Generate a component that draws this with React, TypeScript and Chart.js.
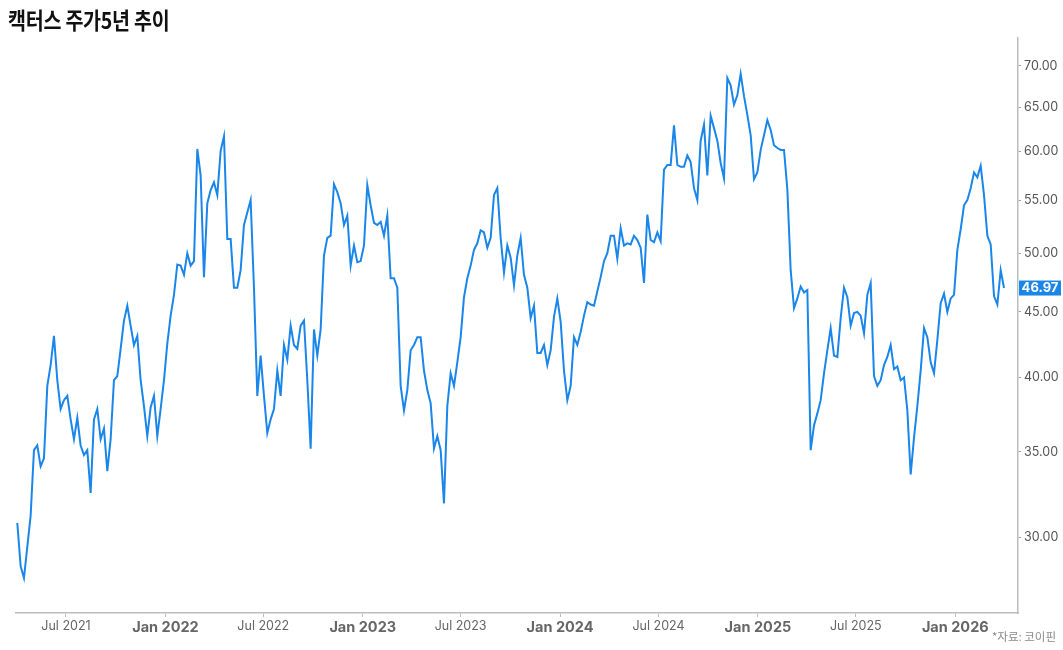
import { useEffect, useRef } from "react"
import { Chart, registerables } from "chart.js"

Chart.register(...registerables)

const DAY = 86400000
// first sample date and spacing of samples
const startDate = Date.UTC(2021, 3, 2)
const stepDays = 6.166

const prices = [
  30.8, 28.5, 27.9, 29.5, 31.2, 35.1, 35.4, 34.1, 34.6, 39.4,
  40.9, 43.1, 39.8, 37.8, 38.4, 38.7, 37.1, 35.8, 37.2, 35.4,
  34.8, 35.1, 32.5, 37.1, 37.8, 35.8, 36.5, 33.8, 35.8, 39.8,
  40.1, 42.1, 44.3, 45.5, 43.9, 42.4, 43.1, 39.8, 38.0, 36.0,
  37.9, 38.7, 36.0, 37.8, 39.8, 42.5, 44.7, 46.4, 49.0, 48.9,
  48.1, 50.0, 48.9, 49.3, 60.3, 57.5, 47.9, 54.7, 56.0, 56.8,
  55.5, 60.1, 61.7, 51.3, 51.3, 47.0, 47.0, 48.5, 52.6, 53.8,
  55.0, 47.0, 38.7, 41.6, 38.7, 36.2, 37.1, 37.8, 40.5, 38.7,
  42.4, 41.3, 43.9, 42.4, 42.1, 43.9, 44.3, 39.8, 35.2, 43.6,
  41.6, 43.6, 49.8, 51.4, 51.6, 56.6, 55.8, 54.7, 52.6, 53.5,
  48.9, 50.7, 49.2, 49.3, 50.7, 56.5, 54.5, 52.8, 52.6, 52.9,
  51.6, 53.5, 47.8, 47.8, 47.0, 39.4, 37.7, 39.1, 42.0, 42.4,
  43.0, 43.0, 40.5, 39.1, 38.2, 35.2, 36.0, 35.1, 31.9, 38.0,
  40.3, 39.4, 41.1, 43.0, 46.2, 47.8, 48.9, 50.3, 50.9, 52.1,
  51.9, 50.5, 51.4, 55.5, 56.2, 51.4, 48.3, 50.7, 49.6, 47.2,
  49.8, 51.4, 48.1, 47.0, 44.5, 45.5, 41.8, 41.8, 42.4, 40.9,
  42.0, 44.6, 46.1, 44.2, 40.5, 38.4, 39.4, 43.0, 42.4, 43.4,
  44.7, 45.8, 45.6, 45.5, 46.7, 47.9, 49.3, 50.0, 51.6, 51.6,
  49.5, 52.3, 50.7, 50.9, 50.8, 51.6, 51.2, 50.5, 47.4, 53.6,
  51.2, 51.0, 51.9, 51.1, 58.1, 58.6, 58.6, 62.9, 58.6, 58.4,
  58.4, 59.6, 58.9, 56.2, 55.0, 61.2, 63.0, 57.5, 64.0, 62.6,
  61.2, 58.8, 57.2, 68.5, 67.6, 65.3, 66.4, 69.0, 66.3, 64.1,
  61.8, 57.1, 57.8, 60.2, 61.8, 63.5, 62.4, 60.7, 60.4, 60.2,
  60.2, 56.1, 48.5, 45.3, 46.1, 47.1, 46.6, 46.8, 35.1, 36.7,
  37.5, 38.4, 40.3, 42.0, 43.7, 41.6, 41.5, 44.5, 47.0, 46.2,
  43.9, 44.9, 45.0, 44.7, 43.3, 46.4, 47.4, 40.1, 39.4, 39.8,
  40.9, 41.5, 42.4, 40.6, 40.8, 39.8, 40.0, 37.7, 33.6, 35.9,
  38.0, 40.5, 43.7, 43.0, 41.1, 40.3, 42.8, 45.7, 46.5, 45.0,
  46.1, 46.4, 50.3, 52.2, 54.5, 55.0, 56.2, 57.8, 57.3, 58.5,
  55.5, 51.6, 50.8, 46.3, 45.6, 48.5, 46.97,
]

const xTickLabels = [
  "Jul 2021", "Jan 2022", "Jul 2022", "Jan 2023", "Jul 2023",
  "Jan 2024", "Jul 2024", "Jan 2025", "Jul 2025", "Jan 2026",
]
const yTicks = [30, 35, 40, 45, 50, 55, 60, 65, 70]

const LINE_COLOR = "#1a86ea"

const labelToTime = (label: string) => {
  const [mon, year] = label.split(" ")
  return Date.UTC(Number(year), mon === "Jan" ? 0 : 6, 1)
}

const lastValueLabel = {
  id: "lastValueLabel",
  afterDraw(chart: any) {
    const { ctx, chartArea, scales } = chart
    const v = prices[prices.length - 1]
    const y = scales.y.getPixelForValue(v)
    ctx.save()
    ctx.fillStyle = LINE_COLOR
    ctx.fillRect(chartArea.right + 1, y - 7.5, 42, 15)
    ctx.fillStyle = "#ffffff"
    ctx.font = "bold 13px Inter, sans-serif"
    ctx.textAlign = "center"
    ctx.textBaseline = "middle"
    ctx.fillText(v.toFixed(2), chartArea.right + 22, y + 0.5)
    ctx.restore()
  },
}

const PriceChart = () => {
  const canvasRef = useRef<HTMLCanvasElement>(null)
  const chartInstance = useRef<Chart | null>(null)

  useEffect(() => {
    if (!canvasRef.current) return
    if (chartInstance.current) chartInstance.current.destroy()

    const points = prices.map((p, i) => ({ x: startDate + i * stepDays * DAY, y: p }))
    const tickTimes = xTickLabels.map(labelToTime)

    chartInstance.current = new Chart(canvasRef.current, {
      type: "line",
      data: {
        datasets: [
          {
            data: points,
            borderColor: LINE_COLOR,
            borderWidth: 2,
            pointRadius: 0,
            tension: 0,
            fill: false,
          },
        ],
      },
      options: {
        animation: false,
        responsive: true,
        maintainAspectRatio: false,
        layout: { padding: { top: 38, left: 16, right: 0, bottom: 0 } },
        plugins: {
          legend: { display: false },
          tooltip: { enabled: false },
        },
        scales: {
          x: {
            type: "linear",
            min: startDate - 2.4 * DAY,
            max: startDate + 1851 * DAY,
            afterBuildTicks: (scale: any) => {
              scale.ticks = tickTimes.map((t) => ({ value: t }))
            },
            afterFit: (scale: any) => {
              scale.height = 37
            },
            border: { display: true, color: "#bdbdbd", width: 1.5 },
            grid: { display: true, drawOnChartArea: false, tickLength: 4, color: "#bdbdbd" },
            ticks: {
              autoSkip: false,
              maxRotation: 0,
              padding: 2,
              color: "#666666",
              callback: (value: any) => {
                const idx = tickTimes.indexOf(value)
                return idx >= 0 ? xTickLabels[idx] : ""
              },
              font: (ctx: any) => {
                const v = ctx.tick ? ctx.tick.value : 0
                const isJan = new Date(v).getUTCMonth() === 0
                return isJan
                  ? { family: "Inter, sans-serif", size: 14.5, weight: "bold" }
                  : { family: "Inter, sans-serif", size: 12.5, weight: "normal" }
              },
            },
          },
          y: {
            type: "logarithmic",
            position: "right",
            min: 26.2,
            max: 73.6,
            afterBuildTicks: (scale: any) => {
              scale.ticks = yTicks.map((v) => ({ value: v }))
            },
            afterFit: (scale: any) => {
              scale.width = 45
            },
            border: { display: true, color: "#bdbdbd", width: 1.5 },
            grid: { display: true, drawOnChartArea: false, tickLength: 3, color: "#9e9e9e" },
            ticks: {
              padding: 3,
              color: "#555555",
              font: { family: "Inter, sans-serif", size: 12.5 },
              callback: (value: any) => Number(value).toFixed(2),
            },
          },
        },
      },
      plugins: [lastValueLabel],
    })

    return () => {
      if (chartInstance.current) {
        chartInstance.current.destroy()
        chartInstance.current = null
      }
    }
  }, [])

  return <canvas ref={canvasRef} />
}

export default function App() {
  return (
    <div
      style={{
        position: "fixed",
        left: 0,
        top: 0,
        width: 1063,
        height: 650,
        background: "#ffffff",
      }}
    >
      <div style={{ position: "absolute", left: 0, top: 0, width: 1063, height: 650 }}>
        <PriceChart />
      </div>
      <div
        style={{
          position: "absolute",
          left: 8,
          top: 2,
          fontFamily: "'Noto Sans CJK KR', sans-serif",
          fontWeight: 700,
          fontSize: 23,
          letterSpacing: "-0.3px",
          transform: "scaleX(0.85)",
          transformOrigin: "left top",
          color: "#111111",
          whiteSpace: "nowrap",
        }}
      >
        캑터스 주가5년 추이
      </div>
      <div
        style={{
          position: "absolute",
          right: 7,
          top: 628,
          fontFamily: "'Noto Sans CJK KR', sans-serif",
          fontSize: 11.5,
          color: "#8a8a8a",
          whiteSpace: "nowrap",
        }}
      >
        *자료: 코이핀
      </div>
    </div>
  )
}
